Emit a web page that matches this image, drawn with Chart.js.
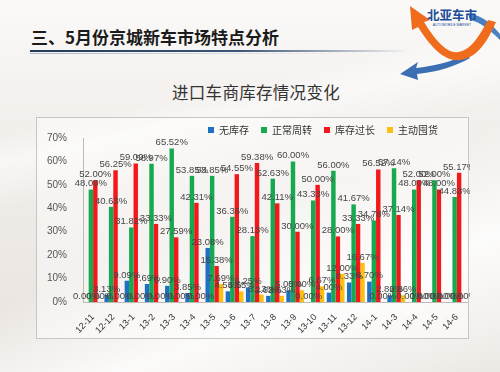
<!DOCTYPE html>
<html>
<head>
<meta charset="utf-8">
<script src="https://cdn.jsdelivr.net/npm/chart.js@4.4.0/dist/chart.umd.min.js"></script>
<style>
  html, body { margin: 0; padding: 0; }
  body {
    width: 500px; height: 372px; overflow: hidden; position: relative;
    background:
      linear-gradient(160deg, rgba(255,255,255,0) 55%, rgba(255,255,255,0.85) 75%, rgba(255,255,255,0.2) 100%),
      linear-gradient(168deg, rgba(255,255,255,0) 28%, rgba(255,255,255,0.55) 34%, rgba(255,255,255,0) 44%),
      linear-gradient(to bottom, #fbfaf9 0px, #f3f0ed 100px, #e7e2dd 372px);
    font-family: "Noto Sans CJK SC", sans-serif;
  }
  #title {
    position: absolute; left: 31px; top: 28px; font-size: 17px; font-weight: 700;
    line-height: 1; color: #1b1b1b; white-space: nowrap;
  }
  #rule {
    position: absolute; left: 30px; top: 50px; width: 380px; height: 2px;
    background: linear-gradient(to right, #22395a, #3b5678 55%, rgba(90,120,160,0));
  }
  #rule2 {
    position: absolute; left: 30px; top: 53px; width: 330px; height: 1px;
    background: linear-gradient(to right, rgba(120,140,170,0.6), rgba(120,140,170,0));
  }
  #subtitle {
    position: absolute; left: 0; width: 512px; top: 84px; text-align: center;
    font-size: 16.5px; line-height: 1; color: #333; letter-spacing: 0.3px;
  }
  #box {
    position: absolute; left: 36px; top: 117px; width: 431px; height: 220px;
    border: 1px solid #c9c5c1; background: rgba(255,255,255,0.45);
  }
  #wrap { position: absolute; left: 36px; top: 117px; }
  #logo { position: absolute; left: 400px; top: 0; }
</style>
</head>
<body>
<div id="title">三、5月份京城新车市场特点分析</div>
<div id="rule"></div>
<div id="rule2"></div>
<svg id="logo" width="100" height="80" viewBox="0 0 100 80">
  <!-- blue ribbon and lower arrow -->
  <path d="M68 14 C80 14 90 22 100 34 L100 40 C90 30 80 22 70 20 Z" fill="#4a7fc0"/>
  <path d="M66 54 C52 62 34 66 16 68 L18 62 L0 74 L18 80 L17 74 C38 72 56 66 70 58 Z" fill="#3b6eb2"/>
  <!-- orange arrow -->
  <path d="M88 20 C80 34 72 50 58 52 C46 54 34 38 24 22 L30 20 L10 6 L12 30 L18 27 C30 46 44 62 60 60 C78 58 88 40 96 22 Z" fill="#ef6c1d"/>
  <text x="52" y="20" font-size="12.5" font-weight="700" fill="#1d4f9a" text-anchor="middle" font-family="Noto Sans CJK SC">北亚车市</text>
  <text x="52" y="26" font-size="3.5" fill="#1d4f9a" text-anchor="middle" font-family="Liberation Sans">AUTOMOBILE MARKET</text>
</svg>
<div id="subtitle">进口车商库存情况变化</div>
<div id="box"></div>
<div id="wrap"><canvas id="myChart" width="434" height="221"></canvas></div>
<script>
const months = ["12-11", "12-12", "13-1", "13-2", "13-3", "13-4", "13-5", "13-6", "13-7", "13-8",
  "13-9", "13-10", "13-11", "13-12", "14-1", "14-3", "14-4", "14-5", "14-6"];
const noStock = [0.00, 3.13, 9.09, 7.69, 6.90, 3.85, 23.08, 4.55, 6.25, 2.63,
  5.00, 0.00, 4.00, 8.33, 8.70, 2.86, 0.00, 0.00, 0.00];
const normalTurnover = [48.00, 40.63, 31.82, 58.97, 65.52, 53.85, 53.85, 36.36, 28.13, 52.63,
  60.00, 43.33, 56.00, 41.67, 34.78, 57.14, 48.00, 52.00, 44.83];
const overStock = [52.00, 56.25, 59.09, 33.33, 27.59, 42.31, 15.38, 54.55, 59.38, 42.11,
  30.00, 50.00, 28.00, 33.33, 56.52, 37.14, 52.00, 48.00, 55.17];
const hoarding = [0.00, 0.00, 0.00, 0.00, 0.00, 0.00, 7.69, 4.55, 3.13, 2.63,
  5.00, 6.67, 12.00, 16.67, 0.00, 2.86, 0.00, 0.00, 0.00];
const seriesNames = ["无库存", "正常周转", "库存过长", "主动囤货"];
const seriesColors = ["#1f6fc2", "#16a94f", "#f2181c", "#fdc010"];
const yTicks = [0, 10, 20, 30, 40, 50, 60, 70];

// labels over every bar
const barLabels = {
  id: "barLabels",
  afterDatasetsDraw(chart) {
    const ctx = chart.ctx;
    ctx.save();
    ctx.font = "9.5px 'Liberation Sans'";
    ctx.fillStyle = "#454545";
    ctx.textAlign = "center";
    ctx.textBaseline = "bottom";
    chart.data.datasets.forEach((ds, i) => {
      chart.getDatasetMeta(i).data.forEach((bar, j) => {
        ctx.fillText(ds.data[j].toFixed(2) + "%", bar.x, bar.y - 1);
      });
    });
    ctx.restore();
  }
};

// legend drawn inside the top of the box
const boxLegend = {
  id: "boxLegend",
  afterDraw(chart) {
    const ctx = chart.ctx;
    ctx.save();
    ctx.font = "10px 'Noto Sans CJK SC'";
    ctx.textBaseline = "middle";
    let x = 172;
    const y = 13;
    chart.data.datasets.forEach((ds) => {
      ctx.fillStyle = ds.backgroundColor;
      ctx.fillRect(x, y - 3, 6, 6);
      ctx.fillStyle = "#333";
      ctx.fillText(ds.label, x + 11, y);
      x += 11 + ctx.measureText(ds.label).width + 12;
    });
    ctx.restore();
  }
};

const ctx = document.getElementById("myChart").getContext("2d");
const myChart = new Chart(ctx, {
  type: "bar",
  data: {
    labels: months,
    datasets: [noStock, normalTurnover, overStock, hoarding].map((d, i) => ({
      label: seriesNames[i],
      data: d,
      backgroundColor: seriesColors[i],
      borderWidth: 0,
      categoryPercentage: 0.88,
      barPercentage: 1.0,
    })),
  },
  options: {
    responsive: false,
    animation: false,
    layout: { padding: { top: 21, right: 3, left: 0, bottom: 0 } },
    plugins: {
      legend: { display: false },
      tooltip: { enabled: false },
    },
    scales: {
      x: {
        grid: { display: false },
        border: { color: "#bdbab6" },
        ticks: {
          color: "#333",
          font: { size: 9, family: "Liberation Sans" },
          minRotation: 45,
          maxRotation: 45,
          padding: 2,
        },
        afterFit(scale) { scale.height = 36; },
      },
      y: {
        min: 0,
        max: 70,
        grid: { display: false },
        border: { color: "#bdbab6" },
        afterBuildTicks(scale) { scale.ticks = yTicks.map((v) => ({ value: v })); },
        ticks: {
          color: "#555",
          font: { size: 10, family: "Liberation Sans" },
          padding: 8,
          callback: (v) => v + "%",
        },
        afterFit(scale) { scale.width = 47; },
      },
    },
  },
  plugins: [barLabels, boxLegend],
});
</script>
</body>
</html>
